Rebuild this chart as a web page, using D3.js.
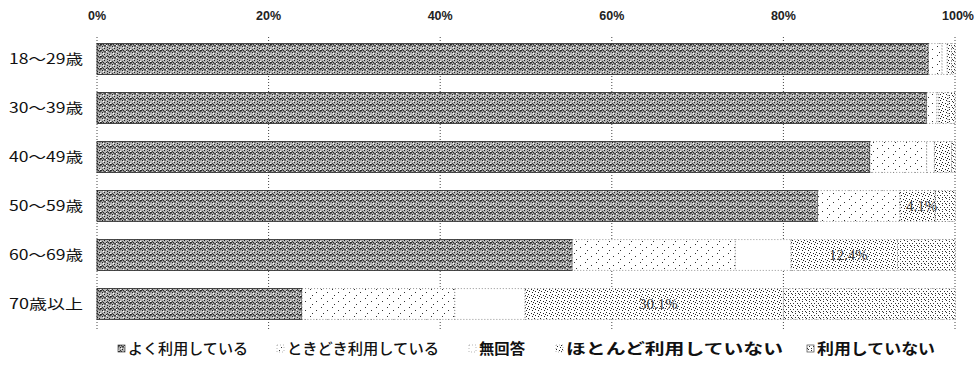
<!DOCTYPE html>
<html>
<head>
<meta charset="utf-8">
<script src="https://cdn.jsdelivr.net/npm/d3@7"></script>
<style>
  body { margin: 0; background: #fff; }
  svg { display: block; }
</style>
</head>
<body>
<div id="chart"></div>
<script>
// Data ////////////////////////////////////////////////////////////////
var ageGroups = ["18～29歳", "30～39歳", "40～49歳", "50～59歳", "60～69歳", "70歳以上"];
var seriesNames = ["よく利用している", "ときどき利用している", "無回答", "ほとんど利用していない", "利用していない"];
var often     = [96.9, 96.7, 90.1, 84.0, 55.4, 23.9];
var sometimes = [1.6, 1.2, 6.6, 9.6, 19.0, 17.8];
var noAnswer  = [0.6, 0.2, 0.9, 0.0, 6.5, 8.2];
var rarely    = [0.5, 1.1, 2.0, 4.1, 12.4, 30.1];
var never     = [0.4, 0.8, 0.4, 2.3, 6.7, 20.0];
var tickValues = [0, 20, 40, 60, 80, 100];

// table for the stack
var seriesKeys = ["often", "sometimes", "noAnswer", "rarely", "never"];
var table = ageGroups.map(function(g, i) {
  return { group: g, often: often[i], sometimes: sometimes[i], noAnswer: noAnswer[i], rarely: rarely[i], never: never[i] };
});

// Setup ///////////////////////////////////////////////////////////////
var W = 977, H = 365;
var svg = d3.select("#chart").append("svg").attr("width", W).attr("height", H);

var x = d3.scaleLinear().domain([0, 100]).range([97, 955]);
var y = d3.scaleBand().domain(ageGroups).range([34.5, 328.5]).paddingInner(0.37).paddingOuter(0.185);

// Patterns (grey dithering look) //////////////////////////////////////
var defs = svg.append("defs");

function addPattern(id, w, h, build) {
  var p = defs.append("pattern").attr("id", id).attr("patternUnits", "userSpaceOnUse")
    .attr("width", w).attr("height", h);
  p.append("rect").attr("width", w).attr("height", h).attr("fill", "#fff");
  build(p);
}
function dots(p, pts, col) {
  pts.forEach(function(d) {
    p.append("rect").attr("x", d[0]).attr("y", d[1]).attr("width", 1).attr("height", 1).attr("fill", col || "#111");
  });
}

// よく利用している : zigzag dither
addPattern("pOften", 10, 6, function(p) {
  p.append("rect").attr("width", 10).attr("height", 6).attr("fill", "#b4b4b4");
  p.append("path").attr("d", "M0,4.5 L2.5,1.5 L5,4.5 L7.5,1.5 L10,4.5").attr("fill", "none")
    .attr("stroke", "#111").attr("stroke-width", 1);
  dots(p, [[2, 4], [7, 5], [4, 0], [9, 0], [0, 2]], "#222");
  dots(p, [[0, 1], [6, 3], [3, 5]], "#fff");
});
// ときどき利用している : sparse dots
addPattern("pSometimes", 11, 9, function(p) {
  dots(p, [[2, 1], [8, 4], [4, 7]], "#333");
});
// ほとんど利用していない : denser dots
addPattern("pRarely", 6, 6, function(p) {
  dots(p, [[0, 0], [3, 1], [1, 3], [4, 4], [5, 2]], "#222");
});
// 利用していない : dots
addPattern("pNever", 7, 6, function(p) {
  dots(p, [[1, 0], [4, 1], [6, 3], [2, 3], [0, 5], [4, 5]], "#333");
});

var fills = {
  often: "url(#pOften)",
  sometimes: "url(#pSometimes)",
  noAnswer: "#fff",
  rarely: "url(#pRarely)",
  never: "url(#pNever)"
};

// Grid & top axis /////////////////////////////////////////////////////
svg.append("g").selectAll("line")
  .data(tickValues)
  .enter().append("line")
    .attr("x1", function(d) { return x(d); })
    .attr("x2", function(d) { return x(d); })
    .attr("y1", 37)
    .attr("y2", 331)
    .attr("stroke", "#444")
    .attr("stroke-width", 1)
    .attr("stroke-dasharray", "1,2");

svg.append("g").selectAll("text")
  .data(tickValues)
  .enter().append("text")
    .attr("x", function(d) { return x(d) + (d === 100 ? 3 : 0); })
    .attr("y", 16)
    .attr("dy", "0.35em")
    .style("text-anchor", "middle")
    .style("font-family", "'Liberation Sans', Arial, sans-serif")
    .style("font-size", "12.5px")
    .style("font-weight", "bold")
    .style("fill", "#222")
    .text(function(d) { return d + "%"; });

// Category labels
svg.append("g").selectAll("text")
  .data(ageGroups)
  .enter().append("text")
    .attr("x", 83)
    .attr("y", function(d) { return y(d) + y.bandwidth() / 2; })
    .attr("dy", "0.35em")
    .attr("textLength", 74)
    .attr("lengthAdjust", "spacingAndGlyphs")
    .style("text-anchor", "end")
    .style("font-family", "'Noto Sans CJK JP', sans-serif")
    .style("font-size", "14px")
    .style("fill", "#111")
    .text(function(d) { return d; });

// Bars ////////////////////////////////////////////////////////////////
var stack = d3.stack().keys(seriesKeys)(table);

var layers = svg.append("g").selectAll("g")
  .data(stack)
  .enter().append("g")
    .attr("class", function(d) { return "layer " + d.key; });

layers.selectAll("rect")
  .data(function(d) { return d.map(function(v) { v.key = d.key; return v; }); })
  .enter().append("rect")
    .attr("x", function(d) { return x(d[0]); })
    .attr("y", function(d) { return y(d.data.group); })
    .attr("width", function(d) { return Math.max(0, x(d[1]) - x(d[0])); })
    .attr("height", y.bandwidth())
    .attr("fill", function(d) { return fills[d.key]; })
    .attr("stroke", function(d) { return d.key === "often" ? "#222" : "#666"; })
    .attr("stroke-width", function(d) { return d.key === "often" ? 0.8 : 0.7; })
    .attr("stroke-dasharray", function(d) { return d.key === "often" ? null : "1,2"; });

// value labels on the larger ほとんど segments
var rarelyLayer = stack[3];
svg.append("g").selectAll("text")
  .data(rarelyLayer.filter(function(d) { return d[1] - d[0] > 3; }))
  .enter().append("text")
    .attr("x", function(d) { return (x(d[0]) + x(d[1])) / 2 + 4; })
    .attr("y", function(d) { return y(d.data.group) + y.bandwidth() / 2; })
    .attr("dy", "0.35em")
    .style("text-anchor", "middle")
    .style("font-family", "'Liberation Serif', serif")
    .style("font-size", "15px")
    .style("fill", "#222")
    .style("opacity", 0.85)
    .text(function(d) { return (d[1] - d[0]).toFixed(1) + "%"; });

// Legend //////////////////////////////////////////////////////////////
var legendX = [118, 277, 469, 556, 807];
var legendW = [120, 152, 46, 217, 118];
var legendFill = ["url(#pOften)", "url(#pSometimes)", "#fff", "url(#pRarely)", "url(#pNever)"];

var legend = svg.append("g").selectAll("g")
  .data(seriesNames)
  .enter().append("g")
    .attr("transform", function(d, i) { return "translate(" + legendX[i] + ",349)"; });

legend.append("rect")
  .attr("x", 0)
  .attr("y", -4)
  .attr("width", 7)
  .attr("height", 7)
  .attr("fill", function(d, i) { return legendFill[i]; })
  .attr("stroke", function(d, i) { return i === 0 || i === 4 ? "#444" : "#999"; })
  .attr("stroke-width", 0.7)
  .attr("stroke-dasharray", function(d, i) { return i === 0 || i === 4 ? null : "1,2"; });

legend.append("text")
  .attr("x", 10)
  .attr("y", 0)
  .attr("dy", "0.35em")
  .attr("textLength", function(d, i) { return legendW[i]; })
  .attr("lengthAdjust", "spacingAndGlyphs")
  .style("font-family", "'Noto Sans CJK JP', sans-serif")
  .style("font-size", "14.5px")
  .style("font-weight", function(d, i) { return i >= 2 ? "bold" : "500"; })
  .style("fill", "#111")
  .text(function(d) { return d; });
</script>
</body>
</html>
